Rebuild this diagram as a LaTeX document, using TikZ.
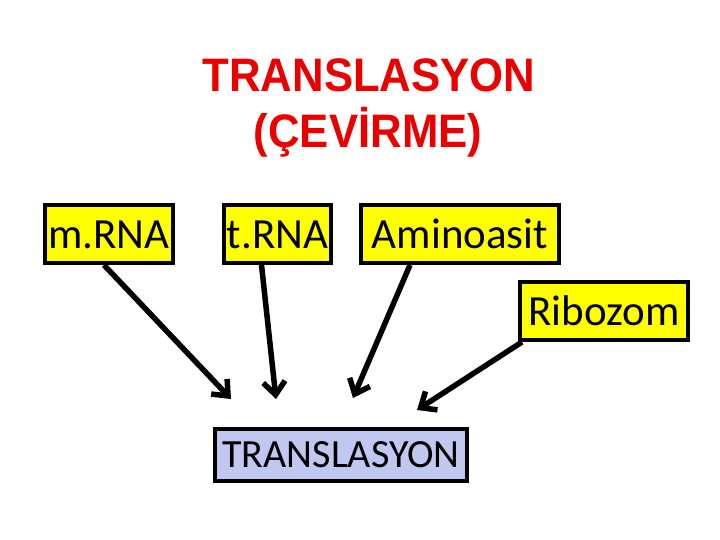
\documentclass[tikz,border=0pt]{standalone}
\usepackage{fontspec}
\setmainfont{Carlito}
\newfontfamily\titlefont{Liberation Sans}[FakeStretch=0.93]
\usetikzlibrary{arrows.meta}
\definecolor{titlered}{RGB}{235,0,0}
\definecolor{boxyellow}{RGB}{255,255,0}
\definecolor{boxblue}{RGB}{192,200,240}
\tikzset{
  ybox/.style={draw=black, line width=4pt, fill=boxyellow, inner sep=0pt,
    minimum height=58pt, text height=28pt, text depth=0pt,
    font=\fontsize{43}{50}\selectfont},
  bbox/.style={draw=black, line width=4pt, fill=boxblue, inner sep=0pt,
    minimum height=52pt, minimum width=252pt, text height=25pt, text depth=0pt,
    font=\fontsize{40}{48}\selectfont},
  ttl/.style={anchor=base, inner sep=0pt, text=titlered,
    font=\titlefont\bfseries\fontsize{47}{56}\selectfont},
  conn/.style={line width=5.5pt, -{Straight Barb[length=13pt,width=22pt]}}
}
\begin{document}
\begin{tikzpicture}[x=1pt,y=-1pt]
\useasboundingbox (0,0) rectangle (720,540);
\node[ttl] (title1) at (369,92) {TRANSLASYON};
\node[ttl] (title2) at (368,148) {(ÇEVİRME)};
\node[ybox, minimum width=128pt] (mrna) at (109,234) {m.RNA};
\node[ybox, minimum width=107pt] (trna) at (277.5,234) {t.RNA};
\node[ybox, minimum width=198pt] (amino) at (460,234) {Aminoasit};
\node[ybox, minimum width=168pt] (ribo) at (604,311) {Ribozom};
\node[bbox] (trans) at (341,455) {TRANSLASYON};
\coordinate (t1) at (231,399);
\coordinate (t2) at (276,399);
\coordinate (t3) at (353,398);
\coordinate (t4) at (417,410);
\draw[conn] ([xshift=-5pt]mrna.south) -- (t1);
\draw[conn] ([xshift=-16pt]trna.south) -- (t2);
\draw[conn] ([xshift=-50pt]amino.south) -- (t3);
\draw[conn] ([xshift=4pt]ribo.south west) -- (t4);
\end{tikzpicture}
\end{document}
